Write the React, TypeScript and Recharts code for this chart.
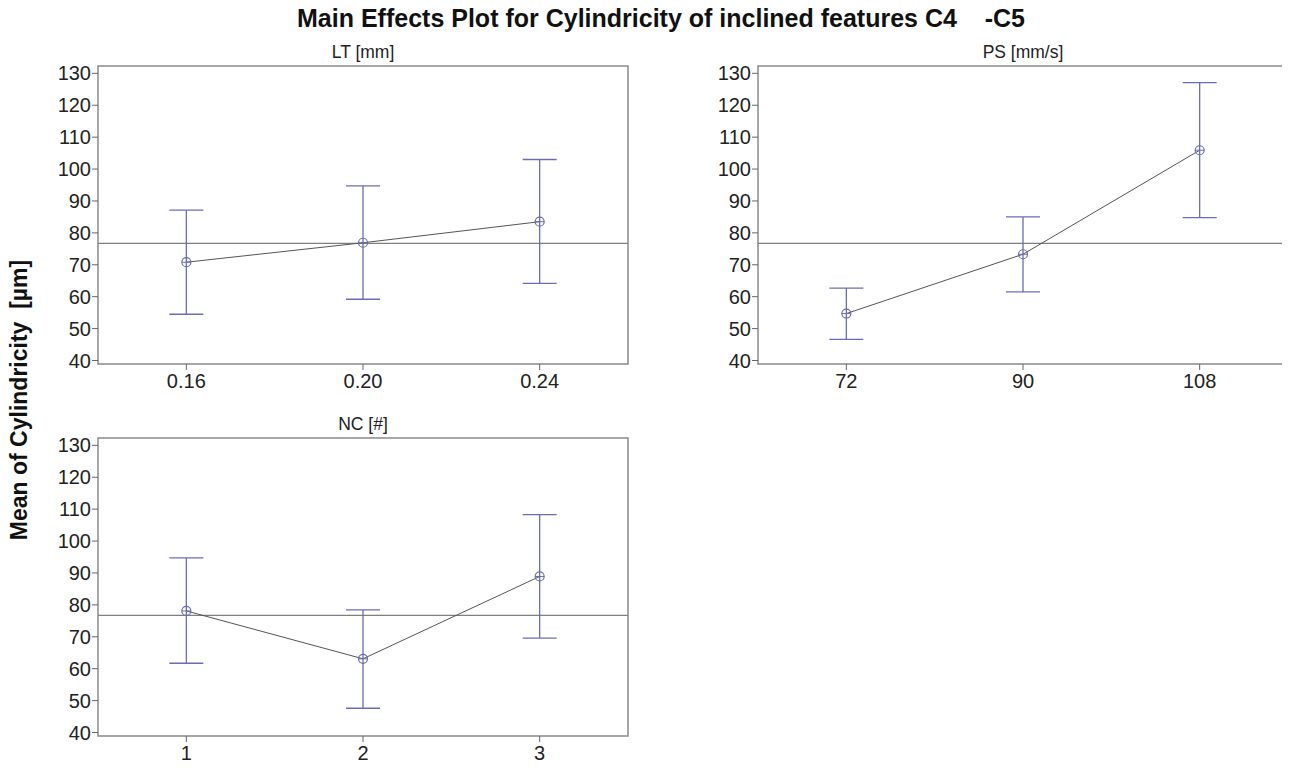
import { ComposedChart, Line, XAxis, YAxis, ReferenceLine, ReferenceArea, ErrorBar } from 'recharts'

const ltLabels = ['0.16', '0.20', '0.24']
const ltMean = [70.8, 76.9, 83.5]
const ltLow = [54.5, 59.2, 64.2]
const ltHigh = [87.1, 94.7, 103]

const psLabels = ['72', '90', '108']
const psMean = [54.7, 73.3, 105.9]
const psLow = [46.6, 61.5, 84.8]
const psHigh = [62.7, 85, 127.1]

const ncLabels = ['1', '2', '3']
const ncMean = [78.1, 63.1, 88.9]
const ncLow = [61.7, 47.6, 69.6]
const ncHigh = [94.7, 78.4, 108.3]

const grandMean = 76.7
const yTicks = [40, 50, 60, 70, 80, 90, 100, 110, 120, 130]
const yDomain = [38.9, 132.3]

const FONT = '"Liberation Sans", Arial, sans-serif'
const BLUE = '#6c6cb4'

function Marker(props: any) {
  const { cx, cy, index } = props
  return (
    <g key={`m-${index}`}>
      <circle cx={cx} cy={cy} r={4.5} fill="none" stroke={BLUE} strokeWidth={1.2} />
      <line x1={cx - 4.5} y1={cy} x2={cx + 4.5} y2={cy} stroke={BLUE} strokeWidth={1} />
    </g>
  )
}

type PanelProps = {
  title: string
  labels: string[]
  mean: number[]
  low: number[]
  high: number[]
  left: number
  top: number
}

function Panel({ title, labels, mean, low, high, left, top }: PanelProps) {
  const rows = labels.map((l, i) => ({
    x: i + 1,
    mean: mean[i],
    err: [mean[i] - low[i], high[i] - mean[i]],
  }))
  return (
    <div style={{ position: 'absolute', left, top, width: 640, height: 370 }}>
      <div style={{ position: 'absolute', left: 98, width: 530, top: 0, textAlign: 'center', fontSize: 17.5, color: '#222', lineHeight: '24px' }}>
        {title}
      </div>
      <ComposedChart width={640} height={370} data={rows} margin={{ top: 26, right: 12, left: 38, bottom: 0 }}>
        <ReferenceArea x1={0.5} x2={3.5} y1={yDomain[0]} y2={yDomain[1]} fill="#fff" fillOpacity={0} stroke="#8a8a8a" strokeWidth={1.5} ifOverflow="extendDomain" />
        <XAxis
          type="number"
          dataKey="x"
          domain={[0.5, 3.5]}
          ticks={[1, 2, 3]}
          tickFormatter={(v: number) => labels[v - 1]}
          axisLine={false}
          tickLine={{ stroke: '#666' }}
          tickSize={6}
          tickMargin={4}
          tick={{ fontSize: 20, fill: '#222', fontFamily: FONT }}
          height={46}
          allowDataOverflow
        />
        <YAxis
          type="number"
          domain={yDomain}
          ticks={yTicks}
          axisLine={false}
          tickLine={{ stroke: '#666' }}
          tickSize={6}
          tickMargin={1}
          tick={{ fontSize: 20, fill: '#222', fontFamily: FONT }}
          width={60}
          allowDataOverflow
        />
        <ReferenceLine y={grandMean} stroke="#808080" strokeWidth={1.2} />
        <Line
          dataKey="mean"
          type="linear"
          stroke="#555555"
          strokeWidth={1}
          dot={Marker}
          activeDot={false}
          isAnimationActive={false}
        >
          <ErrorBar dataKey="err" width={17} stroke={BLUE} strokeWidth={1.3} direction="y" isAnimationActive={false} />
        </Line>
      </ComposedChart>
    </div>
  )
}

export default function App() {
  return (
    <div style={{ position: 'relative', width: 1290, height: 768, marginLeft: -8, marginTop: -8, background: '#fff', fontFamily: FONT }}>
      <div style={{ position: 'absolute', left: 0, width: 1322, top: 3, textAlign: 'center', fontSize: 25, fontWeight: 'bold', color: '#111', whiteSpace: 'pre', lineHeight: '30px' }}>
        {'Main Effects Plot for Cylindricity of inclined features C4    -C5'}
      </div>
      <div
        style={{
          position: 'absolute',
          left: 19,
          top: 400,
          transform: 'translate(-50%, -50%) rotate(-90deg)',
          fontSize: 23,
          fontWeight: 'bold',
          color: '#111',
          whiteSpace: 'pre',
        }}
      >
        {'Mean of Cylindricity  [µm]'}
      </div>
      <Panel title="LT [mm]" labels={ltLabels} mean={ltMean} low={ltLow} high={ltHigh} left={0} top={40} />
      <Panel title="PS [mm/s]" labels={psLabels} mean={psMean} low={psLow} high={psHigh} left={660} top={40} />
      <Panel title="NC [#]" labels={ncLabels} mean={ncMean} low={ncLow} high={ncHigh} left={0} top={412} />
    </div>
  )
}
